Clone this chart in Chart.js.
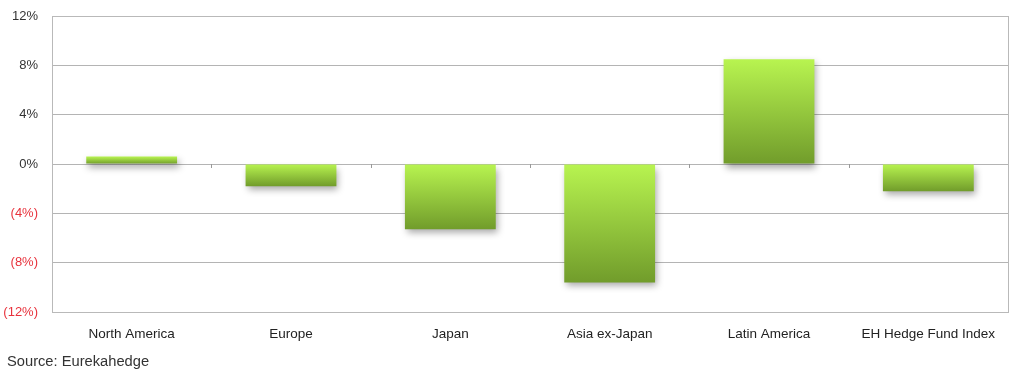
<!DOCTYPE html>
<html>
<head>
<meta charset="utf-8">
<script src="https://cdn.jsdelivr.net/npm/chart.js@4.4.1/dist/chart.umd.min.js"></script>
<style>
  html, body { margin: 0; padding: 0; background: #fff; }
  #wrap { position: relative; width: 1024px; height: 374px; }
  #source {
    position: absolute; left: 7px; top: 353px;
    font: 14.7px "Liberation Sans", Arial, sans-serif; color: #333;
  }
</style>
</head>
<body>
<div id="wrap">
  <canvas id="chart" width="1024" height="374"></canvas>
  <div id="source">Source: Eurekahedge</div>
</div>
<script>
// Regional hedge fund returns
const categories = ['North America', 'Europe', 'Japan', 'Asia ex-Japan', 'Latin America', 'EH Hedge Fund Index'];
const returns = [0.6, -1.8, -5.3, -9.6, 8.5, -2.2];
const yTicks = [-12, -8, -4, 0, 4, 8, 12];

const labelFont = '"Liberation Sans", Arial, sans-serif';

// Vertical gradient per bar, bright at the top, darker at the bottom
function barGradient(ctx) {
    const chart = ctx.chart;
    if (!chart.chartArea) return '#9acd3c';
    const y = chart.scales.y;
    const v = ctx.raw;
    const top = y.getPixelForValue(Math.max(v, 0));
    const bottom = y.getPixelForValue(Math.min(v, 0));
    const g = chart.ctx.createLinearGradient(0, top, 0, bottom);
    g.addColorStop(0, '#b8f450');
    g.addColorStop(1, '#719c2b');
    return g;
}

// Soft drop shadow under the bars
const barShadow = {
    id: 'barShadow',
    beforeDatasetsDraw(chart) {
        const c = chart.ctx;
        c.save();
        c.shadowColor = 'rgba(0, 0, 0, 0.35)';
        c.shadowBlur = 7;
        c.shadowOffsetX = 2;
        c.shadowOffsetY = 4;
    },
    afterDatasetsDraw(chart) {
        chart.ctx.restore();
    }
};

// Frame around the plot area, plus small category ticks on the zero line
const plotFrame = {
    id: 'plotFrame',
    beforeDatasetsDraw(chart) {
        const { left, top, right, bottom } = chart.chartArea;
        const c = chart.ctx;
        c.save();
        c.strokeStyle = '#b9b9b9';
        c.lineWidth = 1;
        c.strokeRect(left + 0.5, top + 0.5, right - left, bottom - top);

        const x = chart.scales.x;
        const zero = Math.round(chart.scales.y.getPixelForValue(0));
        const step = x.getPixelForValue(1) - x.getPixelForValue(0);
        c.strokeStyle = '#999';
        c.beginPath();
        for (let i = 1; i < categories.length; i++) {
            const px = Math.round(x.getPixelForValue(i) - step / 2) + 0.5;
            c.moveTo(px, zero);
            c.lineTo(px, zero + 4);
        }
        c.stroke();
        c.restore();
    }
};

new Chart(document.getElementById('chart'), {
    type: 'bar',
    data: {
        labels: categories,
        datasets: [{
            data: returns,
            backgroundColor: barGradient,
            borderWidth: 0,
            barPercentage: 0.57,
            categoryPercentage: 1
        }]
    },
    options: {
        responsive: false,
        animation: false,
        layout: { padding: { top: 16, right: 16, bottom: 22, left: 0 } },
        plugins: {
            legend: { display: false },
            tooltip: { enabled: false }
        },
        scales: {
            x: {
                grid: { display: false },
                border: { display: false },
                ticks: {
                    color: '#222',
                    font: { family: labelFont, size: 13.5 },
                    padding: 6,
                    maxRotation: 0
                },
                afterFit(scale) { scale.height = 40; }
            },
            y: {
                min: -12,
                max: 12,
                afterBuildTicks(scale) {
                    scale.ticks = yTicks.map(v => ({ value: v }));
                },
                grid: { color: '#b4b4b4', lineWidth: 1, drawTicks: false },
                border: { display: false },
                ticks: {
                    color: ctx => ctx.tick.value < 0 ? '#e8323c' : '#333',
                    font: { family: labelFont, size: 13 },
                    padding: 14,
                    callback: v => v < 0 ? '(' + (-v) + '%)' : v + '%'
                },
                afterFit(scale) {
                    scale.width = 52;
                    scale.paddingTop = 0;
                    scale.paddingBottom = 0;
                }
            }
        }
    },
    plugins: [plotFrame, barShadow]
});
</script>
</body>
</html>
